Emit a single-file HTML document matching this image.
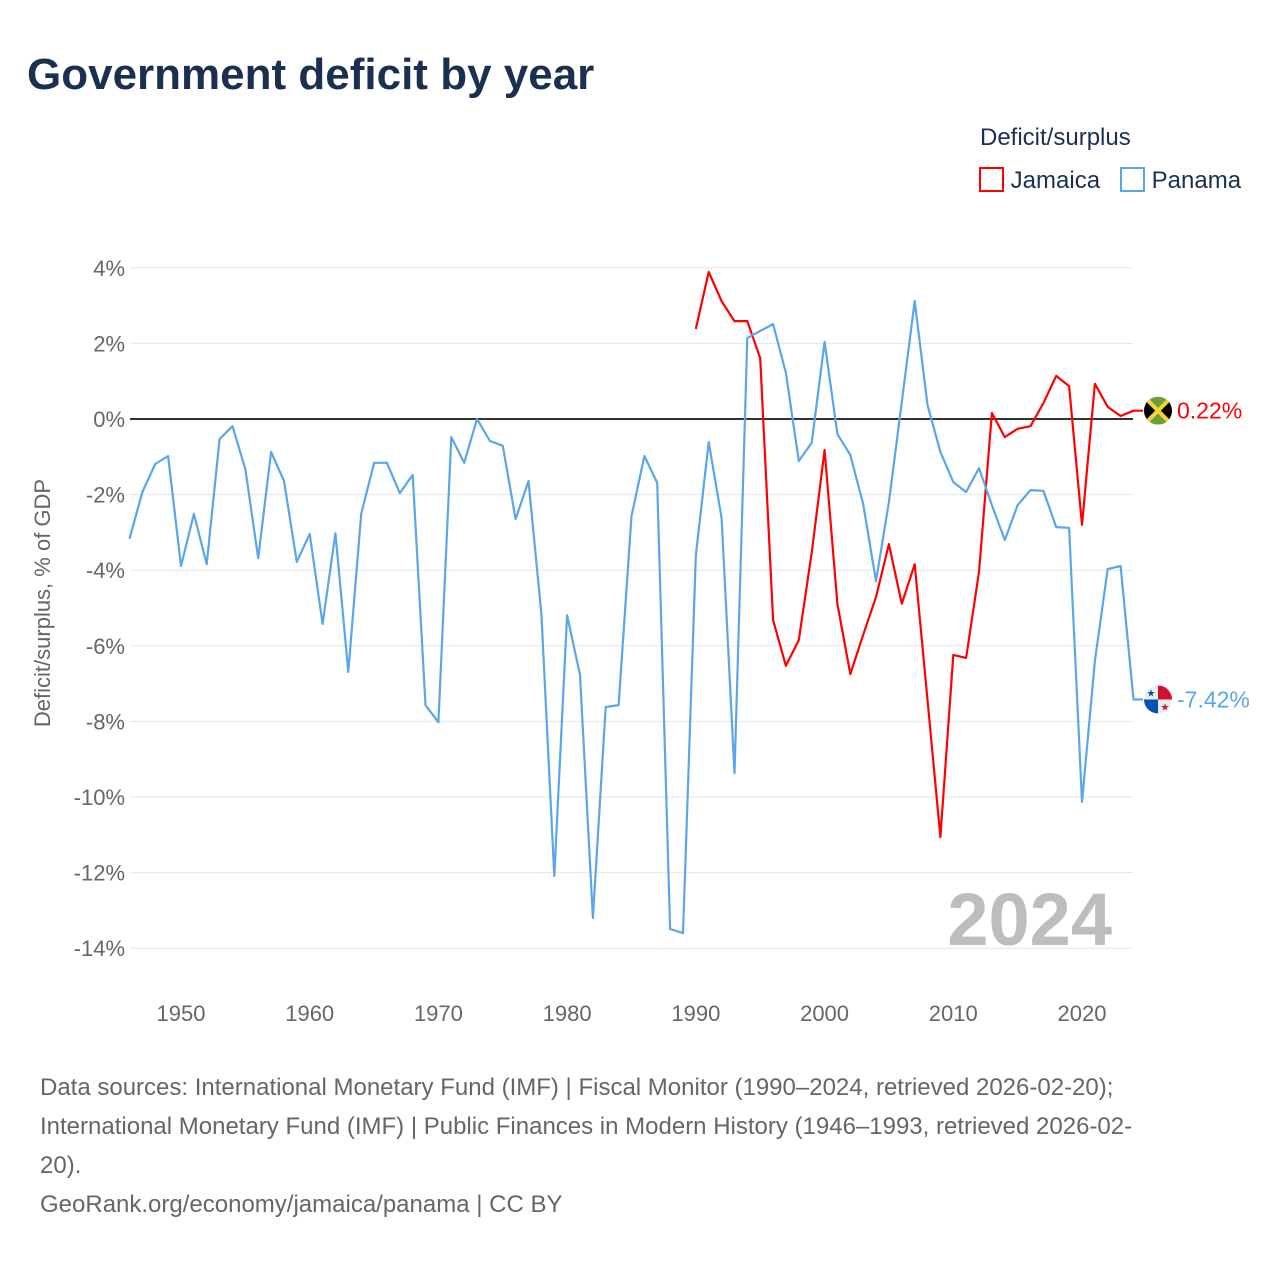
<!DOCTYPE html>
<html><head><meta charset="utf-8">
<style>
body{margin:0;background:#fff;font-family:"Liberation Sans",sans-serif;}
#wrap{position:relative;width:1280px;height:1280px;overflow:hidden;}
.t{position:absolute;white-space:nowrap;}
</style></head>
<body>
<div id="wrap">
<div class="t" style="left:27px;top:50px;font-size:44px;font-weight:bold;color:#1b3050;">Government deficit by year</div>
<div class="t" style="left:980px;top:124px;font-size:24px;color:#1b3050;">Deficit/surplus</div>
<div class="t" style="left:979px;top:167px;font-size:24px;color:#1b3050;"><span style="display:inline-block;width:21px;height:21px;border:2px solid #f00;vertical-align:-4px;box-sizing:border-box;width:25px;height:25px;"></span> Jamaica</div>
<div class="t" style="left:1120px;top:167px;font-size:24px;color:#1b3050;"><span style="display:inline-block;border:2px solid #5aa6ea;vertical-align:-4px;box-sizing:border-box;width:25px;height:25px;"></span> Panama</div>
<svg id="chart" width="1280" height="1280" style="position:absolute;left:0;top:0;"></svg>
<div class="t" style="left:40px;top:1068px;font-size:24px;line-height:39px;color:#666;white-space:normal;width:1200px;">Data sources: International Monetary Fund (IMF) | Fiscal Monitor (1990–2024, retrieved 2026-02-20);<br>International Monetary Fund (IMF) | Public Finances in Modern History (1946–1993, retrieved 2026-02-<br>20).<br>GeoRank.org/economy/jamaica/panama | CC BY</div>
</div>
<script>
const yTicks=[4,2,0,-2,-4,-6,-8,-10,-12,-14];
const xTicks=[1950,1960,1970,1980,1990,2000,2010,2020];
const panamaStart=1946;
const panama=[-3.17,-1.93,-1.19,-0.98,-3.89,-2.51,-3.84,-0.53,-0.19,-1.32,-3.68,-0.87,-1.64,-3.78,-3.04,-5.42,-3.02,-6.69,-2.51,-1.16,-1.16,-1.96,-1.48,-7.57,-8.02,-0.48,-1.16,0,-0.58,-0.71,-2.65,-1.64,-5.16,-12.09,-5.19,-6.77,-13.2,-7.62,-7.57,-2.57,-0.98,-1.69,-13.49,-13.6,-3.62,-0.61,-2.62,-9.37,2.14,2.33,2.51,1.22,-1.11,-0.63,2.04,-0.4,-0.95,-2.25,-4.29,-2.2,0.45,3.12,0.37,-0.87,-1.67,-1.93,-1.3,-2.28,-3.2,-2.28,-1.88,-1.9,-2.86,-2.88,-10.13,-6.4,-3.97,-3.89,-7.42];
const jamaicaStart=1990;
const jamaica=[2.38,3.89,3.12,2.59,2.59,1.61,-5.32,-6.53,-5.85,-3.54,-0.82,-4.89,-6.75,-5.71,-4.71,-3.31,-4.89,-3.84,-7.43,-11.06,-6.24,-6.32,-4.05,0.16,-0.48,-0.26,-0.19,0.42,1.14,0.87,-2.8,0.93,0.32,0.08,0.22];
const NS='http://www.w3.org/2000/svg';
const svg=document.getElementById('chart');
const xS=yr=>129.5+(yr-1946)*(1082-181)/70;
const yS=v=>419-v*37.8;
function mk(tag,attrs,parent){const e=document.createElementNS(NS,tag);for(const k in attrs)e.setAttribute(k,attrs[k]);(parent||svg).appendChild(e);return e;}
yTicks.forEach(v=>{
 const g=mk('line',{x1:130,x2:1133,y1:yS(v),y2:yS(v),stroke:v===0?'#333':'#e6e6e6','stroke-width':v===0?2:1});
 
 
 const t=mk('text',{x:125,y:yS(v)+8,'text-anchor':'end','font-size':22,fill:'#666','font-family':'Liberation Sans, sans-serif'});
 t.textContent=v+'%';
 
 
});
xTicks.forEach(yr=>{
 const t=mk('text',{x:xS(yr),y:1021,'text-anchor':'middle','font-size':22,fill:'#666','font-family':'Liberation Sans, sans-serif'});
 t.textContent=yr;
 
 
});
const yt=mk('text',{transform:'translate(50,603) rotate(-90)','text-anchor':'middle','font-size':22,fill:'#666','font-family':'Liberation Sans, sans-serif'});
yt.textContent='Deficit/surplus, % of GDP';


const wm=mk('text',{x:1112,y:945,'text-anchor':'end','font-size':74,'font-weight':'bold',fill:'#bdbdbd','font-family':'Liberation Sans, sans-serif'});
wm.textContent='2024';


function series(arr,start,color,name){
 let d=arr.map((v,i)=>(i?'L':'M')+xS(start+i).toFixed(1)+','+yS(v).toFixed(1)).join('');
 const last=arr[arr.length-1];
 d+='L1143,'+yS(last).toFixed(1);
 const p=mk('path',{d:d,fill:'none',stroke:color,'stroke-width':2.2,'stroke-linejoin':'round'});
 
 
 const lbl=mk('text',{x:1177,y:yS(last)+8,'font-size':23,fill:color,'font-family':'Liberation Sans, sans-serif'});
 lbl.textContent=last.toFixed(2)+'%';
 
 
 return yS(last);
}
const jy=series(jamaica,jamaicaStart,'#ff0000','jamaica');
const py=series(panama,panamaStart,'#5aa6ea','panama');
// flags
const jf=mk('g',{});


mk('clipPath',{id:'cj'},jf).appendChild(Object.assign(document.createElementNS(NS,'circle'),{}));
const cj=jf.querySelector('clipPath circle');cj.setAttribute('cx',1158);cj.setAttribute('cy',jy);cj.setAttribute('r',14);
const jg=mk('g',{'clip-path':'url(#cj)'},jf);
mk('rect',{x:1144,y:jy-14,width:28,height:28,fill:'#6a9f3a'},jg);
mk('polygon',{points:`1144,${jy-14} 1158,${jy} 1144,${jy+14}`,fill:'#000'},jg);
mk('polygon',{points:`1172,${jy-14} 1158,${jy} 1172,${jy+14}`,fill:'#000'},jg);
mk('line',{x1:1144,y1:jy-14,x2:1172,y2:jy+14,stroke:'#f7d23a','stroke-width':4},jg);
mk('line',{x1:1172,y1:jy-14,x2:1144,y2:jy+14,stroke:'#f7d23a','stroke-width':4},jg);
const pf=mk('g',{});


const cpc=mk('clipPath',{id:'cp'},pf);mk('circle',{cx:1158,cy:py,r:14},cpc);
const pg=mk('g',{'clip-path':'url(#cp)'},pf);
mk('rect',{x:1144,y:py-14,width:28,height:28,fill:'#eee'},pg);
mk('rect',{x:1158,y:py-14,width:14,height:14,fill:'#d21034'},pg);
mk('rect',{x:1144,y:py,width:14,height:14,fill:'#0052b4'},pg);
const s1=mk('text',{x:1151,y:py-3,'text-anchor':'middle','font-size':10,fill:'#0052b4'},pg);s1.textContent='★';
const s2=mk('text',{x:1165,y:py+11,'text-anchor':'middle','font-size':10,fill:'#d21034'},pg);s2.textContent='★';
</script>
</body></html>
